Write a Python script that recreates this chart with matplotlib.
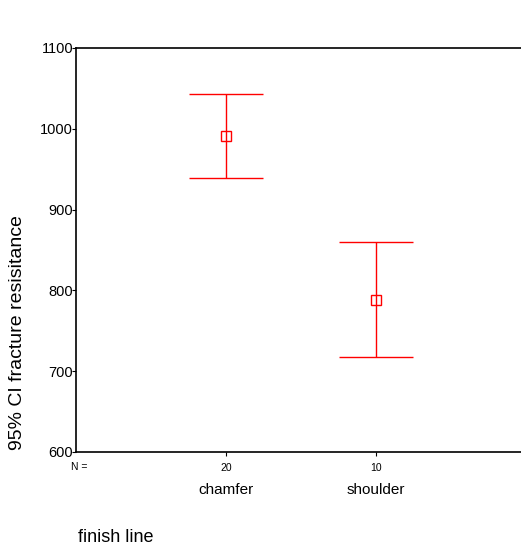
import numpy as np
import matplotlib.pyplot as plt

plt.rcParams['font.family'] = ['Liberation Sans', 'DejaVu Sans']

groups = ['chamfer', 'shoulder']
counts = [20, 10]
means = [991.5, 788.0]
upper = [1043.5, 859.5]
lower = [939.0, 718.0]

yticks = [600, 700, 800, 900, 1000, 1100]

fig = plt.figure(figsize=(5.21, 5.49), dpi=100)
ax = fig.add_axes([76 / 521, 97 / 549, 450 / 521, 404 / 549])

x = np.arange(1, len(groups) + 1)
means = np.array(means)
err = [means - np.array(lower), np.array(upper) - means]
ax.errorbar(x, means, yerr=err, fmt='s', color='red', mfc='none', mec='red',
            ms=6.5, mew=1, elinewidth=1, capsize=26.6, capthick=1)

ax.set_xlim(0, 3)
ax.set_ylim(600, 1100)
ax.set_yticks(yticks)
ax.set_yticklabels([str(v) for v in yticks], fontsize=10.5)
ax.tick_params(axis='y', length=3, pad=-1, direction='out')
ax.set_xticks(x)
ax.set_xticklabels([str(c) for c in counts], fontsize=7.5)
ax.tick_params(axis='x', length=3, pad=5)
ax.spines['right'].set_visible(False)
for s in ['left', 'top', 'bottom']:
    ax.spines[s].set_linewidth(1.2)

fig.text(79 / 521, 1 - 467 / 549, 'N =', fontsize=7.5, ha='center', va='center')
for xi, g in zip(x, groups):
    ax.text(xi, -0.095, g, transform=ax.get_xaxis_transform(), fontsize=11,
            ha='center', va='center')

fig.text(18 / 521, 1 - 333 / 549, '95% CI fracture resisitance', fontsize=14,
         rotation=90, ha='center', va='center')
fig.text(78 / 521, 1 - 537 / 549, 'finish line', fontsize=13, ha='left', va='center')

fig.savefig('out.png', dpi=100)
